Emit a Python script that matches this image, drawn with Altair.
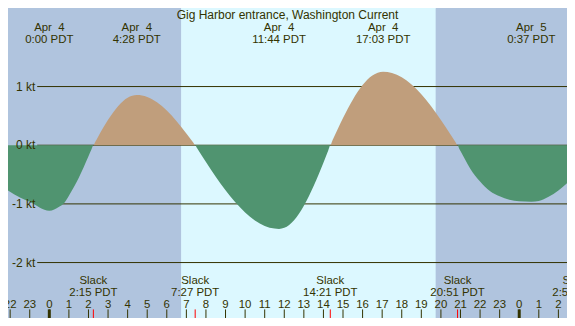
import altair as alt
import pandas as pd

W, H = 559, 310
FONT = "Liberation Sans"
TXT = "#333300"
FS = 11.4

# ---- current curve (hours after Apr 4 00:00 PDT, knots; + flood, - ebb) ----
hours = [-2.11, -1.5, -1.0, -0.5, -0.25, 0.0, 0.5, 0.77, 1.0, 1.5, 2.0, 2.15, 2.25,
         2.35, 2.5, 3.0, 3.5, 4.0, 4.467, 5.0, 5.5, 6.0, 6.5, 7.0, 7.35, 7.45,
         7.55, 8.0, 8.5, 9.0, 9.5, 10.0, 10.5, 11.0, 11.5, 11.733, 12.0, 12.5,
         13.0, 13.5, 14.0, 14.25, 14.35, 14.45, 14.5, 15.0, 15.5, 16.0, 16.5,
         17.05, 17.5, 18.0, 18.5, 19.0, 19.5, 20.0, 20.5, 20.75, 20.85, 20.95,
         21.0, 21.5, 22.0, 22.5, 23.0, 23.5, 24.0, 24.62, 25.0, 25.5, 26.0, 26.44]
knots = [-0.77, -0.89, -0.965, -1.06, -1.10, -1.118, -1.05, -0.98, -0.86, -0.56, -0.19, -0.075, 0.0,
         0.06, 0.15, 0.433, 0.662, 0.809, 0.855, 0.822, 0.732, 0.592, 0.41, 0.201, 0.045, 0.0,
         -0.052, -0.286, -0.536, -0.768, -0.974, -1.148, -1.283, -1.375, -1.421, -1.426, -1.408, -1.278,
         -1.033, -0.696, -0.297, -0.086, 0.0, 0.073, 0.109, 0.463, 0.777, 1.026, 1.189,
         1.253, 1.231, 1.158, 1.034, 0.868, 0.664, 0.431, 0.18, 0.052, 0.0, -0.07,
         -0.10, -0.40, -0.62, -0.78, -0.87, -0.93, -0.955, -0.963, -0.95, -0.88, -0.77, -0.65]

# ---- day / night ----
shade_start = [-2.11, 6.73, 19.74]
shade_end = [6.73, 19.74, 26.44]
shade_color = ["#b0c4de", "#dcf8ff", "#b0c4de"]

# ---- max current labels ----
max_time = [0.0, 4.467, 11.733, 17.05, 24.617]
max_date = ["Apr\u00a0\u00a04", "Apr\u00a0\u00a04", "Apr\u00a0\u00a04", "Apr\u00a0\u00a04", "Apr\u00a0\u00a05"]
max_clock = ["0:00 PDT", "4:28 PDT", "11:44 PDT", "17:03 PDT", "0:37 PDT"]

# ---- slack labels ----
slack_time = [2.25, 7.45, 14.35, 20.85, 26.92]
slack_clock = ["2:15 PDT", "7:27 PDT", "14:21 PDT", "20:51 PDT", "2:55 PDT"]

# ---- hour ticks ----
tick_hours = list(range(-2, 27))
tick_labels = ["22", "23"] + [str(h) for h in range(24)] + ["0", "1", "2"]
midnights = [0, 24]

# ---- knot grid ----
kt_values = [1, 0, -1, -2]
kt_labels = ["1 kt", "0 kt", "-1 kt", "-2 kt"]

xs = alt.Scale(domain=[-2.11, 26.44], range=[0, W], nice=False, zero=False)
ys = alt.Scale(domain=[-2.945, 2.339], range=[H, 0], nice=False, zero=False)

curve = pd.DataFrame({"t": hours, "v": knots})


def label(df, field, y, size=FS, align="center"):
    return alt.Chart(df).mark_text(align=align, baseline="alphabetic", font=FONT,
                                   fontSize=size, color=TXT).encode(
        x=alt.X("t:Q", scale=xs, axis=None), y=alt.value(y), text=f"{field}:N")


bg = alt.Chart(pd.DataFrame({"a": shade_start, "b": shade_end, "c": shade_color})).mark_rect().encode(
    x=alt.X("a:Q", scale=xs, axis=None), x2="b:Q",
    y=alt.value(0), y2=alt.value(H),
    color=alt.Color("c:N", scale=None))

grid = alt.Chart(pd.DataFrame({"k": kt_values})).mark_rule(color=TXT, strokeWidth=1).encode(
    y=alt.Y("k:Q", scale=ys, axis=None), x=alt.value(29.2), x2=alt.value(W))

flood = alt.Chart(curve).transform_calculate(p="max(datum.v, 0)").mark_area(
    color="#c09e7c", interpolate="monotone", opacity=1).encode(
    x=alt.X("t:Q", scale=xs, axis=None), y=alt.Y("p:Q", scale=ys, axis=None), y2=alt.datum(0))

ebb = alt.Chart(curve).transform_calculate(n="min(datum.v, 0)").mark_area(
    color="#509470", interpolate="monotone", opacity=1).encode(
    x=alt.X("t:Q", scale=xs, axis=None), y=alt.Y("n:Q", scale=ys, axis=None), y2=alt.datum(0))

ktext = alt.Chart(pd.DataFrame({"k": kt_values, "l": kt_labels})).mark_text(
    align="right", baseline="middle", font=FONT, fontSize=FS + 0.6, color=TXT).encode(
    y=alt.Y("k:Q", scale=ys, axis=None), x=alt.value(27.4), text="l:N")

title = alt.Chart(pd.DataFrame({"s": ["Gig Harbor entrance, Washington Current"]})).mark_text(
    align="center", baseline="alphabetic", font=FONT, fontSize=FS + 0.6, color=TXT).encode(
    x=alt.value(W / 2), y=alt.value(10.9), text="s:N")

maxdf = pd.DataFrame({"t": max_time, "d": max_date, "c": max_clock})
max1 = label(maxdf, "d", 23.0)
max2 = label(maxdf, "c", 34.8)

sldf = pd.DataFrame({"t": slack_time, "c": slack_clock, "s": ["Slack"] * len(slack_time)})
sl1 = label(sldf, "s", 275.8)
sl2 = label(sldf, "c", 287.6)

hdf = pd.DataFrame({"t": tick_hours, "l": tick_labels})
hlab = label(hdf, "l", 300.2)

hticks = alt.Chart(hdf).mark_rule(color=TXT, strokeWidth=1).encode(
    x=alt.X("t:Q", scale=xs, axis=None), y=alt.value(301.4), y2=alt.value(H))
mticks = alt.Chart(pd.DataFrame({"t": midnights})).mark_rule(color=TXT, strokeWidth=3).encode(
    x=alt.X("t:Q", scale=xs, axis=None), y=alt.value(301.4), y2=alt.value(H))
sticks = alt.Chart(sldf).mark_rule(color="#ff0000", strokeWidth=1).encode(
    x=alt.X("t:Q", scale=xs, axis=None), y=alt.value(301.4), y2=alt.value(H))

chart = alt.layer(bg, grid, flood, ebb, ktext, title, max1, max2, sl1, sl2, hlab,
                  hticks, mticks, sticks).properties(
    width=W, height=H, padding=0, autosize=alt.AutoSizeParams(type="none")
).configure_view(stroke=None, clip=True).configure(background="#b0c4de")

chart.save("out.html", embed_options={"renderer": "svg", "actions": False})
